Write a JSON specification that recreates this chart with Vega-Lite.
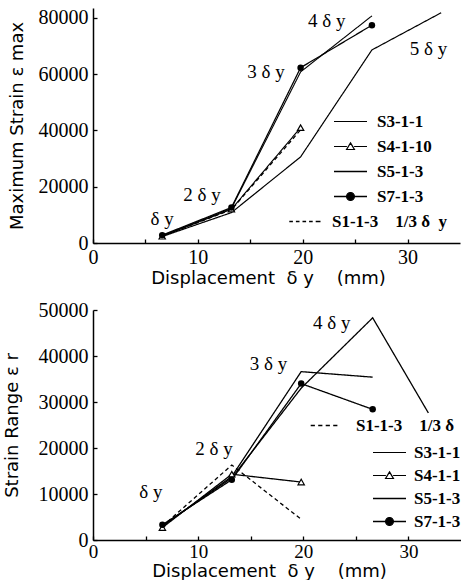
{
  "$schema": "https://vega.github.io/schema/vega-lite/v6.json",
  "padding": {"left": 3, "top": 7, "right": 0, "bottom": 0},
  "spacing": 13,
  "datasets": {
    "top": [
      {"series": "S3-1-1", "x": 6.6, "y": 2600}, {"series": "S3-1-1", "x": 13.2, "y": 12300}, {"series": "S3-1-1", "x": 19.8, "y": 60800}, {"series": "S3-1-1", "x": 26.6, "y": 80700},
      {"series": "S4-1-10", "x": 6.6, "y": 2400}, {"series": "S4-1-10", "x": 13.2, "y": 12000}, {"series": "S4-1-10", "x": 19.8, "y": 41000},
      {"series": "S5-1-3", "x": 6.6, "y": 2300}, {"series": "S5-1-3", "x": 13.2, "y": 10800}, {"series": "S5-1-3", "x": 19.8, "y": 30600}, {"series": "S5-1-3", "x": 26.6, "y": 68600}, {"series": "S5-1-3", "x": 33.2, "y": 81800},
      {"series": "S7-1-3", "x": 6.6, "y": 2800}, {"series": "S7-1-3", "x": 13.2, "y": 12600}, {"series": "S7-1-3", "x": 19.8, "y": 62300}, {"series": "S7-1-3", "x": 26.6, "y": 77400},
      {"series": "S1-1-3", "x": 6.6, "y": 2500}, {"series": "S1-1-3", "x": 13.2, "y": 11800}, {"series": "S1-1-3", "x": 19.8, "y": 40200}
    ],
    "bottom": [
      {"series": "S1-1-3", "x": 6.6, "y": 3000}, {"series": "S1-1-3", "x": 13.2, "y": 16300}, {"series": "S1-1-3", "x": 19.8, "y": 4500},
      {"series": "S4-1-1", "x": 6.6, "y": 2700}, {"series": "S4-1-1", "x": 13.2, "y": 14300}, {"series": "S4-1-1", "x": 19.8, "y": 12600},
      {"series": "S7-1-3", "x": 6.6, "y": 3300}, {"series": "S7-1-3", "x": 13.2, "y": 13100}, {"series": "S7-1-3", "x": 19.8, "y": 34000}, {"series": "S7-1-3", "x": 26.6, "y": 28400},
      {"series": "S3-1-1", "x": 6.6, "y": 3000}, {"series": "S3-1-1", "x": 13.2, "y": 13800}, {"series": "S3-1-1", "x": 19.8, "y": 36600}, {"series": "S3-1-1", "x": 26.6, "y": 35400},
      {"series": "S5-1-3", "x": 6.6, "y": 3100}, {"series": "S5-1-3", "x": 13.2, "y": 13500}, {"series": "S5-1-3", "x": 19.8, "y": 33000}, {"series": "S5-1-3", "x": 26.6, "y": 48300}, {"series": "S5-1-3", "x": 31.9, "y": 27600}
    ],
    "topNotes": [
      {"x": 6.6, "y": 8400, "text": "δ y"},
      {"x": 10.4, "y": 17050, "text": "2  δ y"},
      {"x": 16.5, "y": 60860, "text": "3  δ y"},
      {"x": 22.3, "y": 78900, "text": "4  δ y"},
      {"x": 32.0, "y": 68800, "text": "5  δ y"}
    ],
    "bottomNotes": [
      {"x": 5.5, "y": 10500, "text": "δ y"},
      {"x": 11.5, "y": 19800, "text": "2  δ y"},
      {"x": 16.7, "y": 38300, "text": "3  δ y"},
      {"x": 22.7, "y": 47200, "text": "4  δ y"}
    ]
  },
  "vconcat": [
    {
      "width": 367,
      "height": 235,
      "resolve": {"scale": {"shape": "independent", "fill": "independent", "stroke": "independent", "strokeWidth": "independent"}},
      "layer": [
        {
          "data": {"name": "top"},
          "mark": {"type": "line", "color": "black", "clip": false},
          "encoding": {
            "x": {"field": "x", "type": "quantitative", "scale": {"domain": [0, 35], "nice": false},
              "axis": {"values": [0, 5, 10, 15, 20, 25, 30], "format": "d", "labelExpr": "datum.value % 10 == 0 ? datum.label : ''", "title": "Displacement\u00a0\u00a0δ\u00a0y\u00a0\u00a0\u00a0\u00a0(mm)", "titleX": 175, "titlePadding": 2, "labelPadding": 8}},
            "y": {"field": "y", "type": "quantitative", "scale": {"domain": [0, 83500], "nice": false},
              "axis": {"values": [0, 10000, 20000, 30000, 40000, 50000, 60000, 70000, 80000], "format": "d", "labelExpr": "datum.value % 20000 == 0 ? datum.label : ''", "title": "Maximum Strain ε max", "titlePadding": 12}},
            "detail": {"field": "series"},
            "strokeDash": {"field": "series", "type": "nominal", "legend": null,
              "scale": {"domain": ["S3-1-1", "S4-1-10", "S5-1-3", "S7-1-3", "S1-1-3"], "range": [[1, 0], [1, 0], [1, 0], [1, 0], [4, 3]]}},
            "strokeWidth": {"field": "series", "type": "nominal", "legend": null,
              "scale": {"domain": ["S3-1-1", "S4-1-10", "S5-1-3", "S7-1-3", "S1-1-3"], "range": [1.1, 1.3, 1.6, 2.4, 1.1]}}
          }
        },
        {
          "data": {"name": "top"},
          "transform": [{"filter": "datum.series == 'S4-1-10'"}],
          "mark": {"type": "point", "shape": "triangle-up", "filled": true, "fill": "white", "stroke": "black", "strokeWidth": 1.2, "size": 40, "opacity": 1},
          "encoding": {"x": {"field": "x", "type": "quantitative"}, "y": {"field": "y", "type": "quantitative"}}
        },
        {
          "data": {"name": "top"},
          "transform": [{"filter": "datum.series == 'S7-1-3'"}],
          "mark": {"type": "point", "shape": "circle", "filled": true, "color": "black", "size": 42, "opacity": 1},
          "encoding": {"x": {"field": "x", "type": "quantitative"}, "y": {"field": "y", "type": "quantitative"}}
        },
        {
          "data": {"name": "topNotes"},
          "mark": {"type": "text", "font": "Liberation Serif", "fontSize": 19, "color": "black", "align": "center", "baseline": "middle"},
          "encoding": {"x": {"field": "x", "type": "quantitative"}, "y": {"field": "y", "type": "quantitative"}, "text": {"field": "text"}}
        },
        {
          "data": {"name": "top"},
          "transform": [{"filter": "false"}],
          "mark": {"type": "point", "filled": true, "opacity": 1},
          "encoding": {
            "x": {"field": "x", "type": "quantitative"}, "y": {"field": "y", "type": "quantitative"},
            "shape": {"field": "series", "type": "nominal",
              "scale": {"domain": ["S3-1-1", "S4-1-10", "S5-1-3", "S7-1-3"],
                "range": ["M-2.75,0H2.75", "M-2.75,0H-0.6M0.6,0H2.75M0,-0.6L0.65,0.5L-0.65,0.5Z", "M-2.75,0H2.75", "M-2.75,0H2.75M0.65,0A0.65,0.65 0 1,1 -0.65,0A0.65,0.65 0 1,1 0.65,0Z"]},
              "legend": {"orient": "none", "legendX": 249, "legendY": 105, "title": null, "labelOffset": 18, "rowPadding": 7}},
            "fill": {"field": "series", "type": "nominal",
              "scale": {"domain": ["S3-1-1", "S4-1-10", "S5-1-3", "S7-1-3"], "range": ["black", "white", "black", "black"]},
              "legend": {"orient": "none", "legendX": 249, "legendY": 105, "title": null, "labelOffset": 18, "rowPadding": 7}},
            "stroke": {"field": "series", "type": "nominal",
              "scale": {"domain": ["S3-1-1", "S4-1-10", "S5-1-3", "S7-1-3"], "range": ["black", "black", "black", "black"]},
              "legend": {"orient": "none", "legendX": 249, "legendY": 105, "title": null, "labelOffset": 18, "rowPadding": 7}},
            "strokeWidth": {"field": "series", "type": "nominal",
              "scale": {"domain": ["S3-1-1", "S4-1-10", "S5-1-3", "S7-1-3"], "range": [1.2, 1.3, 1.8, 2.4]},
              "legend": {"orient": "none", "legendX": 249, "legendY": 105, "title": null, "labelOffset": 18, "rowPadding": 7}}
          }
        },
        {
          "data": {"name": "top"},
          "transform": [{"filter": "false"}],
          "mark": {"type": "point", "filled": true, "opacity": 1},
          "encoding": {
            "x": {"field": "x", "type": "quantitative"}, "y": {"field": "y", "type": "quantitative"},
            "shape": {"field": "series", "type": "nominal",
              "scale": {"domain": ["S1-1-3"], "range": ["M-2.7,0H-2.1M-1.6,0H-1M-0.5,0H0.1M0.6,0H1.2M1.7,0H2.5"]},
              "legend": {"orient": "none", "legendX": 204, "legendY": 205, "title": null, "labelOffset": 18,
                "labelExpr": "'S1-1-3\u00a0\u00a0\u00a0\u00a01/3\u00a0δ\u00a0\u00a0y'"}},
            "stroke": {"field": "series", "type": "nominal",
              "scale": {"domain": ["S1-1-3"], "range": ["black"]},
              "legend": {"orient": "none", "legendX": 204, "legendY": 205, "title": null, "labelOffset": 18,
                "labelExpr": "'S1-1-3\u00a0\u00a0\u00a0\u00a01/3\u00a0δ\u00a0\u00a0y'"}}
          }
        }
      ]
    },
    {
      "width": 368,
      "height": 230,
      "resolve": {"scale": {"shape": "independent", "fill": "independent", "stroke": "independent", "strokeWidth": "independent"}},
      "layer": [
        {
          "data": {"name": "bottom"},
          "mark": {"type": "line", "color": "black", "clip": false},
          "encoding": {
            "x": {"field": "x", "type": "quantitative", "scale": {"domain": [0, 35], "nice": false},
              "axis": {"values": [0, 5, 10, 15, 20, 25, 30], "format": "d", "labelExpr": "datum.value % 10 == 0 ? datum.label : ''", "title": "Displacement\u00a0\u00a0δ\u00a0y\u00a0\u00a0\u00a0\u00a0(mm)", "titleX": 176, "titlePadding": 1, "labelPadding": 6, "labelFontSize": 19}},
            "y": {"field": "y", "type": "quantitative", "scale": {"domain": [0, 50000], "nice": false},
              "axis": {"values": [0, 5000, 10000, 15000, 20000, 25000, 30000, 35000, 40000, 45000, 50000], "format": "d", "labelExpr": "datum.value % 10000 == 0 ? datum.label : ''", "title": "Strain Range ε r", "titlePadding": 17}},
            "detail": {"field": "series"},
            "strokeDash": {"field": "series", "type": "nominal", "legend": null,
              "scale": {"domain": ["S3-1-1", "S4-1-1", "S5-1-3", "S7-1-3", "S1-1-3"], "range": [[1, 0], [1, 0], [1, 0], [1, 0], [4, 3]]}},
            "strokeWidth": {"field": "series", "type": "nominal", "legend": null,
              "scale": {"domain": ["S3-1-1", "S4-1-1", "S5-1-3", "S7-1-3", "S1-1-3"], "range": [1.3, 1.3, 1.6, 2.3, 1.1]}}
          }
        },
        {
          "data": {"name": "bottom"},
          "transform": [{"filter": "datum.series == 'S4-1-1'"}],
          "mark": {"type": "point", "shape": "triangle-up", "filled": true, "fill": "white", "stroke": "black", "strokeWidth": 1.2, "size": 40, "opacity": 1},
          "encoding": {"x": {"field": "x", "type": "quantitative"}, "y": {"field": "y", "type": "quantitative"}}
        },
        {
          "data": {"name": "bottom"},
          "transform": [{"filter": "datum.series == 'S7-1-3'"}],
          "mark": {"type": "point", "shape": "circle", "filled": true, "color": "black", "size": 42, "opacity": 1},
          "encoding": {"x": {"field": "x", "type": "quantitative"}, "y": {"field": "y", "type": "quantitative"}}
        },
        {
          "data": {"name": "bottomNotes"},
          "mark": {"type": "text", "font": "Liberation Serif", "fontSize": 19, "color": "black", "align": "center", "baseline": "middle"},
          "encoding": {"x": {"field": "x", "type": "quantitative"}, "y": {"field": "y", "type": "quantitative"}, "text": {"field": "text"}}
        },
        {
          "data": {"name": "bottom"},
          "transform": [{"filter": "false"}],
          "mark": {"type": "point", "filled": true, "opacity": 1},
          "encoding": {
            "x": {"field": "x", "type": "quantitative"}, "y": {"field": "y", "type": "quantitative"},
            "shape": {"field": "series", "type": "nominal",
              "scale": {"domain": ["S3-1-1", "S4-1-1", "S5-1-3", "S7-1-3"],
                "range": ["M-2.75,0H2.75", "M-2.75,0H-0.6M0.6,0H2.75M0,-0.6L0.65,0.5L-0.65,0.5Z", "M-2.75,0H2.75", "M-2.75,0H2.75M0.65,0A0.65,0.65 0 1,1 -0.65,0A0.65,0.65 0 1,1 0.65,0Z"]},
              "legend": {"orient": "none", "legendX": 288, "legendY": 134, "title": null, "labelOffset": 16, "rowPadding": 5}},
            "fill": {"field": "series", "type": "nominal",
              "scale": {"domain": ["S3-1-1", "S4-1-1", "S5-1-3", "S7-1-3"], "range": ["black", "white", "black", "black"]},
              "legend": {"orient": "none", "legendX": 288, "legendY": 134, "title": null, "labelOffset": 16, "rowPadding": 5}},
            "stroke": {"field": "series", "type": "nominal",
              "scale": {"domain": ["S3-1-1", "S4-1-1", "S5-1-3", "S7-1-3"], "range": ["black", "black", "black", "black"]},
              "legend": {"orient": "none", "legendX": 288, "legendY": 134, "title": null, "labelOffset": 16, "rowPadding": 5}},
            "strokeWidth": {"field": "series", "type": "nominal",
              "scale": {"domain": ["S3-1-1", "S4-1-1", "S5-1-3", "S7-1-3"], "range": [1.2, 1.3, 2, 2.2]},
              "legend": {"orient": "none", "legendX": 288, "legendY": 134, "title": null, "labelOffset": 16, "rowPadding": 5}}
          }
        },
        {
          "data": {"name": "bottom"},
          "transform": [{"filter": "false"}],
          "mark": {"type": "point", "filled": true, "opacity": 1},
          "encoding": {
            "x": {"field": "x", "type": "quantitative"}, "y": {"field": "y", "type": "quantitative"},
            "shape": {"field": "series", "type": "nominal",
              "scale": {"domain": ["S1-1-3"], "range": ["M-2.3,0H-1.6M-1.05,0H-0.35M0.2,0H0.9M1.45,0H2.15"]},
              "legend": {"orient": "none", "legendX": 223, "legendY": 107, "title": null, "labelOffset": 23,
                "labelExpr": "'S1-1-3\u00a0\u00a0\u00a0\u00a01/3\u00a0δ'"}},
            "stroke": {"field": "series", "type": "nominal",
              "scale": {"domain": ["S1-1-3"], "range": ["black"]},
              "legend": {"orient": "none", "legendX": 223, "legendY": 107, "title": null, "labelOffset": 23,
                "labelExpr": "'S1-1-3\u00a0\u00a0\u00a0\u00a01/3\u00a0δ'"}}
          }
        }
      ]
    }
  ],
  "config": {
    "view": {"stroke": null},
    "axis": {"grid": false, "domainColor": "black", "domainWidth": 1.5, "tickColor": "black", "tickWidth": 1.3, "tickSize": -4, "labelPadding": 9,
      "labelFont": "Liberation Serif", "labelFontSize": 20, "labelColor": "black", "labelFlush": false, "labelOverlap": false,
      "titleFont": "DejaVu Sans", "titleFontSize": 18, "titleFontWeight": "normal", "titleColor": "black"},
    "legend": {"padding": 0, "labelFont": "Liberation Serif", "labelFontSize": 17, "labelFontWeight": "bold", "labelColor": "black",
      "symbolSize": 144, "symbolStrokeColor": "black", "symbolStrokeWidth": 1.6, "labelLimit": 300}
  }
}
